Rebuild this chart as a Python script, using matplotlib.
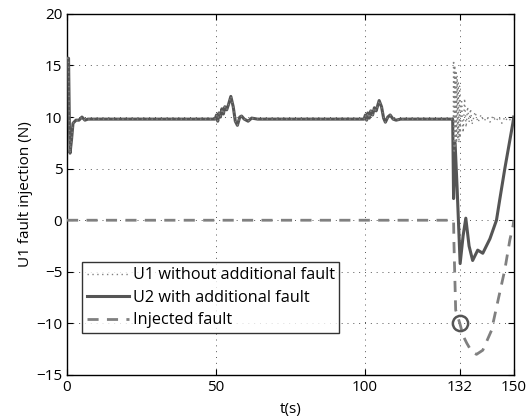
import matplotlib.pyplot as plt
import numpy as np

plt.rcParams['font.family'] = ['Open Sans', 'DejaVu Sans']

# U2 with additional fault (solid)
t_u2 = [0, 0.5, 0.8, 1.0, 1.5, 2.0, 3.0, 4.0, 5.0, 6.0, 7.0, 8.0, 10.0, 30.0,
        49.7, 50.2, 50.6, 51.0, 51.5, 52.0, 52.5, 53.0, 53.6, 54.2, 55.0, 55.8, 56.5, 57.2, 58.0, 58.6, 59.5, 60.8, 62.0, 64.0, 80.0,
        99.7, 100.2, 100.6, 101.0, 101.5, 102.0, 102.6, 103.2, 103.8, 104.8, 105.6, 106.3, 106.9, 107.7, 108.5, 109.5, 110.5, 112.0, 120.0,
        129.5, 129.8, 130.3, 131.0, 132.0, 133.0, 133.9, 135.0, 136.2, 137.9, 139.6, 142.0, 144.2, 145.3, 147.0, 149.7, 150.0]
u2 = [15.7, 15.7, 9.0, 6.5, 7.8, 9.4, 9.7, 9.7, 10.0, 9.7, 9.8, 9.8, 9.8, 9.8,
      9.8, 10.2, 9.6, 10.4, 10.0, 10.8, 10.3, 11.0, 10.7, 11.2, 12.0, 11.0, 9.6, 9.2, 10.0, 10.1, 9.8, 9.6, 9.9, 9.8, 9.8,
      9.8, 10.2, 9.7, 10.4, 9.9, 10.6, 10.2, 10.9, 10.6, 11.6, 11.0, 9.9, 9.5, 10.0, 10.2, 9.8, 9.7, 9.8, 9.8,
      9.8, 2.1, 7.5, 3.0, -4.2, -1.5, 0.2, -2.5, -3.9, -2.9, -3.2, -1.8, 0.0, 2.0, 5.0, 9.4, 10.0]

# U1 without additional fault (dotted): identical to U2 before the fault
t_u1_after = [129.7, 129.8, 130.0, 130.2, 130.4, 130.6, 130.8, 131.0, 131.2, 131.4, 131.6, 131.8, 132.0,
              132.5, 133.0, 133.5, 134.0, 134.5, 135.0, 135.5, 136.0, 137.0, 138.0, 139.0, 140.0,
              141.0, 142.0, 143.0, 144.0, 145.0, 146.0, 147.0, 148.0, 149.0, 150.0]
u1_after = [9.8, 15.5, 6.5, 15.0, 7.0, 14.5, 7.5, 14.0, 8.0, 13.5, 7.5, 13.0, 8.0,
            11.5, 8.5, 11.8, 9.0, 11.0, 9.5, 10.8, 9.3, 10.5, 9.5, 10.2, 9.6,
            10.0, 9.5, 10.1, 9.6, 10.0, 9.4, 10.0, 9.6, 9.8, 9.7]

# Injected fault (dashed)
t_f = [0, 129.8, 129.9, 130.5, 131.9, 133.0, 134.2, 135.8, 137.5, 139.6, 142.5, 144.7, 147.0, 148.7, 149.8, 150.0]
f = [0, 0, -2.0, -8.7, -10.0, -11.2, -11.9, -12.7, -13.0, -12.6, -10.7, -7.8, -4.8, -1.9, -0.5, 0.0]

xticks = [0, 50, 100, 132, 150]
yticks = [-15, -10, -5, 0, 5, 10, 15, 20]

mask = np.array(t_u2) < 129.7
t_u1 = list(np.array(t_u2)[mask]) + t_u1_after
u1 = list(np.array(u2)[mask]) + u1_after

fig = plt.figure(figsize=(5.28, 4.16), dpi=100)
ax = fig.add_axes([0.127, 0.0986, 0.846, 0.868])

ax.plot(t_u2, u2, color='#555555', lw=2.2, label='U2 with additional fault', zorder=3)
ax.plot(t_u1, u1, color='#808080', lw=1.0, linestyle=(0, (1, 2.5)), label='U1 without additional fault', zorder=4)
ax.plot(t_f, f, color='#808080', lw=2.0, linestyle=(0, (4, 3)), label='Injected fault', zorder=3)
ax.plot([132], [-10], marker='o', ms=11, mfc='none', mec='#555555', mew=1.8, zorder=5)

ax.set_xlim(0, 150)
ax.set_ylim(-15, 20)
ax.set_xticks(xticks)
ax.set_yticks(yticks)
ax.grid(True, linestyle=(0, (1, 5)), color='#555555', lw=0.7)
ax.tick_params(direction='in', top=True, right=True, labelsize=11, length=4)
for s in ax.spines.values():
    s.set_linewidth(1.0)

ax.set_xlabel('t(s)', fontsize=11, labelpad=5)
ax.set_ylabel('U1 fault injection (N)', fontsize=11, labelpad=2)

h, l = ax.get_legend_handles_labels()
leg = ax.legend([h[1], h[0], h[2]], [l[1], l[0], l[2]], loc='lower left',
                bbox_to_anchor=(0.034, 0.116), fontsize=11.7, frameon=True,
                fancybox=False, edgecolor='black', handlelength=2.6,
                handletextpad=0.2, borderpad=0.3, labelspacing=0.4, borderaxespad=0)
leg.get_frame().set_linewidth(1.0)

plt.savefig('out.png', dpi=100)
